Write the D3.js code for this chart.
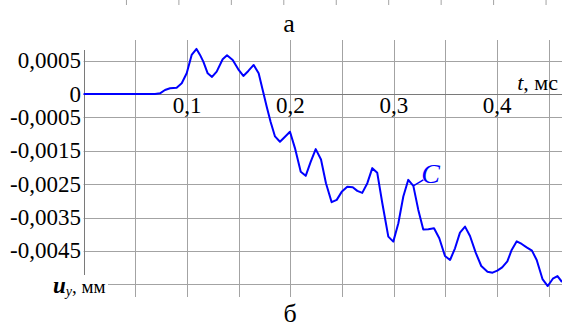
<!DOCTYPE html>
<html>
<head>
<meta charset="utf-8">
<script src="https://cdn.jsdelivr.net/npm/d3@7"></script>
<style>
  html, body { margin: 0; padding: 0; background: #fff; }
  svg { display: block; }
</style>
</head>
<body>
<svg id="chart" width="562" height="327"></svg>
<script>
// time, ms
const timeMs = [0, 0.0691, 0.0739, 0.0787, 0.0836, 0.0900, 0.0949, 0.0997, 0.1045, 0.1092,
  0.1126, 0.1158, 0.1200, 0.1242, 0.1287, 0.1345, 0.1387, 0.1442, 0.1496, 0.1545,
  0.1593, 0.1645, 0.1693, 0.1732, 0.1771, 0.1809, 0.1851, 0.1899, 0.1948, 0.1996,
  0.2044, 0.2100, 0.2148, 0.2196, 0.2245, 0.2296, 0.2344, 0.2399, 0.2448, 0.2496,
  0.2550, 0.2603, 0.2647, 0.2695, 0.2744, 0.2792, 0.2840, 0.2889, 0.2947, 0.2995,
  0.3044, 0.3092, 0.3140, 0.3189, 0.3237, 0.3285, 0.3334, 0.3389, 0.3440, 0.3495,
  0.3544, 0.3592, 0.3640, 0.3689, 0.3737, 0.3792, 0.3846, 0.3906, 0.3955, 0.4001,
  0.4048, 0.4098, 0.4140, 0.4189, 0.4237, 0.4285, 0.4336, 0.4382, 0.4438, 0.4489,
  0.4538, 0.4583, 0.4627];

// displacement u_y, mm (curve C)
const uyC = [0, 0, 0.00002, 0.00012, 0.00017, 0.00019, 0.00032, 0.00062, 0.00117, 0.00135,
  0.00117, 0.00097, 0.00062, 0.00051, 0.00067, 0.00104, 0.00116, 0.00102, 0.00074, 0.00054,
  0.00069, 0.00087, 0.00062, 0.00012, -0.00038, -0.00084, -0.00127, -0.00143, -0.00128, -0.00113,
  -0.00162, -0.00233, -0.00245, -0.00203, -0.00165, -0.00196, -0.00267, -0.00324, -0.00317, -0.00293,
  -0.00278, -0.00279, -0.00290, -0.00296, -0.00267, -0.00222, -0.00236, -0.00327, -0.00427, -0.00442,
  -0.00387, -0.00307, -0.00257, -0.00275, -0.00347, -0.00406, -0.00405, -0.00402, -0.00432, -0.00485,
  -0.00497, -0.00462, -0.00415, -0.00397, -0.00425, -0.00475, -0.00515, -0.00532, -0.00535, -0.00529,
  -0.00519, -0.00501, -0.00467, -0.00441, -0.00449, -0.00459, -0.00469, -0.00497, -0.00554, -0.00575,
  -0.00553, -0.00545, -0.00563];

const xTicks = [0.1, 0.2, 0.3, 0.4];
const xTickLabels = ['0,1', '0,2', '0,3', '0,4'];
const xGrid = [0.05, 0.1, 0.15, 0.2, 0.25, 0.3, 0.35, 0.4, 0.45];

// grid lines as drawn by the source program, with the (rounded) labels it printed
const yGrid = [0.001, -0.0007, -0.0017, -0.0027, -0.0037, -0.0047, -0.0057];
const yTicks = [0.001, 0, -0.0007, -0.0017, -0.0027, -0.0037, -0.0047];
const yTickLabels = ['0,0005', '0', '-0,0005', '-0,0015', '-0,0025', '-0,0035', '-0,0045'];

const serif = "'Liberation Serif', 'Times New Roman', serif";
const svg = d3.select('#chart').attr('font-family', serif);

const x = d3.scaleLinear().domain([0, 0.4]).range([83.6, 497.2]);
const y = d3.scaleLinear().domain([0, -0.005]).range([94, 261]);
// cropped chart "a" above, only its grid stubs are visible
const xTop = d3.scaleLinear().domain([0, 0.4]).range([74, 493.6]);

const gridColor = '#a3a3a3';
const axisColor = '#7a7a7a';

// top stubs of the upper plot
svg.append('g')
  .selectAll('line')
  .data(xGrid)
  .enter()
  .append('line')
  .attr('x1', d => xTop(d)).attr('x2', d => xTop(d))
  .attr('y1', 0).attr('y2', 5)
  .attr('stroke', gridColor);

svg.append('text')
  .attr('x', 289).attr('y', 32)
  .attr('text-anchor', 'middle')
  .attr('font-size', 26)
  .text('а');

// grid
svg.append('g')
  .selectAll('line')
  .data(xGrid)
  .enter()
  .append('line')
  .attr('x1', d => Math.round(x(d)) + 0.5).attr('x2', d => Math.round(x(d)) + 0.5)
  .attr('y1', 40).attr('y2', 297)
  .attr('stroke', gridColor);

svg.append('g')
  .selectAll('line')
  .data(yGrid)
  .enter()
  .append('line')
  .attr('x1', x(0)).attr('x2', 562)
  .attr('y1', d => Math.round(y(d)) + 0.5).attr('y2', d => Math.round(y(d)) + 0.5)
  .attr('stroke', gridColor);

// axes
svg.append('line')
  .attr('x1', Math.round(x(0)) + 0.5).attr('x2', Math.round(x(0)) + 0.5)
  .attr('y1', 50).attr('y2', 280)
  .attr('stroke', axisColor);
svg.append('line')
  .attr('x1', x(0)).attr('x2', 562)
  .attr('y1', Math.round(y(0)) + 0.5).attr('y2', Math.round(y(0)) + 0.5)
  .attr('stroke', axisColor);

// tick labels
svg.append('g')
  .selectAll('text')
  .data(yTicks)
  .enter()
  .append('text')
  .attr('x', 81)
  .attr('y', d => y(d) + 7.5)
  .attr('text-anchor', 'end')
  .attr('font-size', 23)
  .text((d, i) => yTickLabels[i]);

svg.append('g')
  .selectAll('text')
  .data(xTicks)
  .enter()
  .append('text')
  .attr('x', d => x(d))
  .attr('y', y(0) + 19)
  .attr('text-anchor', 'middle')
  .attr('font-size', 23)
  .text((d, i) => xTickLabels[i]);

// axis titles
const tTitle = svg.append('text')
  .attr('x', 558).attr('y', 90)
  .attr('text-anchor', 'end')
  .attr('font-size', 22);
tTitle.append('tspan').attr('font-style', 'italic').text('t');
tTitle.append('tspan').text(', мс');

svg.append('rect')
  .attr('x', 50).attr('y', 275).attr('width', 58).attr('height', 22)
  .attr('fill', '#fff');
const uTitle = svg.append('text')
  .attr('x', 53).attr('y', 293)
  .attr('font-size', 23);
uTitle.append('tspan').attr('font-style', 'italic').attr('font-weight', 'bold').text('u');
uTitle.append('tspan').attr('font-style', 'italic').attr('font-size', 14).attr('dy', 3).text('y');
uTitle.append('tspan').attr('dy', -3).attr('font-size', 19).text(', мм');

// curve C
const line = d3.line()
  .x(d => x(d[0]))
  .y(d => y(d[1]));

svg.append('path')
  .datum(d3.zip(timeMs, uyC))
  .attr('d', line)
  .attr('fill', 'none')
  .attr('stroke', '#0000ff')
  .attr('stroke-width', 2)
  .attr('stroke-linejoin', 'round');

// curve label with leader
const labelIdx = 53;
const lx = x(timeMs[labelIdx]);
const ly = y(uyC[labelIdx]);
svg.append('line')
  .attr('x1', lx).attr('y1', ly)
  .attr('x2', lx + 10).attr('y2', ly - 6)
  .attr('stroke', '#0000ff')
  .attr('stroke-width', 1.5);
svg.append('text')
  .attr('x', lx + 8).attr('y', ly - 3)
  .attr('font-size', 28)
  .attr('font-style', 'italic')
  .attr('fill', '#0000ff')
  .text('C');

svg.append('text')
  .attr('x', 290).attr('y', 322)
  .attr('text-anchor', 'middle')
  .attr('font-size', 26)
  .text('б');
</script>
</body>
</html>
